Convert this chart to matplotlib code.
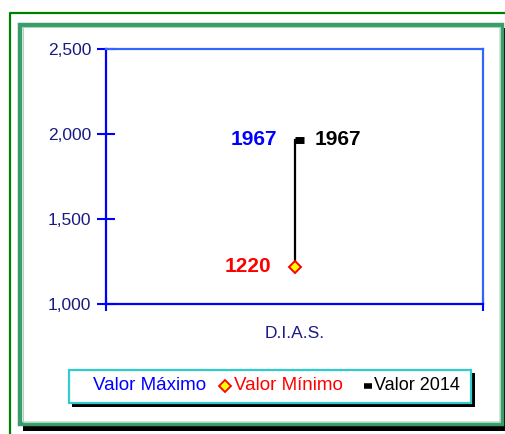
import matplotlib.pyplot as plt
from matplotlib.patches import Rectangle
from matplotlib.lines import Line2D

# data
categories = ['D.I.A.S.']
valor_maximo = [1967]
valor_minimo = [1220]
valor_2014 = [1967]
y_ticks = [1000, 1500, 2000, 2500]
y_tick_labels = ['1,000', '1,500', '2,000', '2,500']

W, H = 505, 434
plt.rcParams['font.family'] = ['Liberation Sans', 'DejaVu Sans']

fig = plt.figure(figsize=(W / 100, H / 100), dpi=100)


def px(x, y):
    # pixel coords (from top-left) -> figure fraction
    return x / W, 1 - y / H


def frect(x0, y0, x1, y1, **kw):
    (fx0, fy1), (fx1, fy0) = px(x0, y0), px(x1, y1)
    r = Rectangle((fx0, fy0), fx1 - fx0, fy1 - fy0, transform=fig.transFigure, **kw)
    fig.add_artist(r)
    return r


# outer frame line
fig.add_artist(Line2D([9.5 / W, 9.5 / W, 1], [0, 1 - 13 / H, 1 - 13 / H],
                      transform=fig.transFigure, color='#008000', lw=1.6, zorder=-5))
# chart area shadow + border
frect(23, 28, 506, 431, facecolor='black', edgecolor='none', zorder=-5)
frect(20, 25, 502, 424, facecolor='white', edgecolor='#3a9c6a', lw=3.2, zorder=-4)
frect(22.5, 27.5, 499.5, 421.5, facecolor='none', edgecolor='#a8d8b8', lw=0.8, zorder=-3)

# plot area
l, b = px(106, 304)
r, t = px(483, 49)
ax = fig.add_axes([l, b, r - l, t - b])
ax.patch.set_alpha(0)
ax.set_xlim(0, len(categories))
ax.set_ylim(1000, 2500)
xs = [i + 0.5 for i in range(len(categories))]

for x, hi, lo, cl in zip(xs, valor_maximo, valor_minimo, valor_2014):
    ax.plot([x, x], [lo, hi], color='black', lw=1.6, zorder=2)
    ax.plot([x, x + 0.024], [cl, cl], color='black', lw=5, solid_capstyle='butt', zorder=3)
    ax.plot([x], [lo], marker='D', markersize=6.5, markerfacecolor='#ffff00',
            markeredgecolor='red', markeredgewidth=1.4, zorder=4)
    ax.text(x - 0.046, hi, str(hi), color='#0000ff', fontsize=15, fontweight='bold',
            ha='right', va='center')
    ax.text(x + 0.053, cl, str(cl), color='black', fontsize=15, fontweight='bold',
            ha='left', va='center')
    ax.text(x - 0.061, lo, str(lo), color='red', fontsize=15, fontweight='bold',
            ha='right', va='center')

ax.set_yticks(y_ticks)
ax.set_yticklabels(y_tick_labels)
ax.set_xticks([0, len(categories)])
ax.set_xticklabels([])
ax.tick_params(axis='y', direction='inout', length=13, width=1.5, color='#0000ff',
               labelcolor='#1a1a80', labelsize=12.5, pad=4)
ax.tick_params(axis='x', direction='inout', length=10, width=1.5, color='#0000ff')
for s in ['left', 'bottom']:
    ax.spines[s].set_color('#0000ff')
    ax.spines[s].set_linewidth(1.6)
for s in ['top', 'right']:
    ax.spines[s].set_color('#3366ff')
    ax.spines[s].set_linewidth(1.6)
for x, c in zip(xs, categories):
    ax.text(x, -0.115, c, transform=ax.get_xaxis_transform(), ha='center', va='center',
            color='#1a1a80', fontsize=12.5)

# legend
frect(72, 373, 475, 407, facecolor='black', edgecolor='none', zorder=2)
frect(68.5, 369.5, 471, 403, facecolor='white', edgecolor='#33cccc', lw=1.6, zorder=3)
ly = 386
fig.text(*px(93, ly), 'Valor Máximo', color='#0000ff', fontsize=13.5, va='center', zorder=4)
fig.add_artist(Line2D([px(225, ly)[0]], [px(225, ly)[1]], transform=fig.transFigure,
                      marker='D', markersize=6, markerfacecolor='#ffff00',
                      markeredgecolor='red', markeredgewidth=1.3, zorder=4))
fig.text(*px(234, ly), 'Valor Mínimo', color='red', fontsize=13.5, va='center', zorder=4)
fig.add_artist(Line2D([px(364, ly)[0], px(372, ly)[0]], [px(364, ly)[1]] * 2,
                      transform=fig.transFigure, color='black', lw=4, solid_capstyle='butt',
                      zorder=4))
fig.text(*px(374, ly), 'Valor 2014', color='black', fontsize=13, va='center', zorder=4)

fig.savefig('out.png', dpi=100)
